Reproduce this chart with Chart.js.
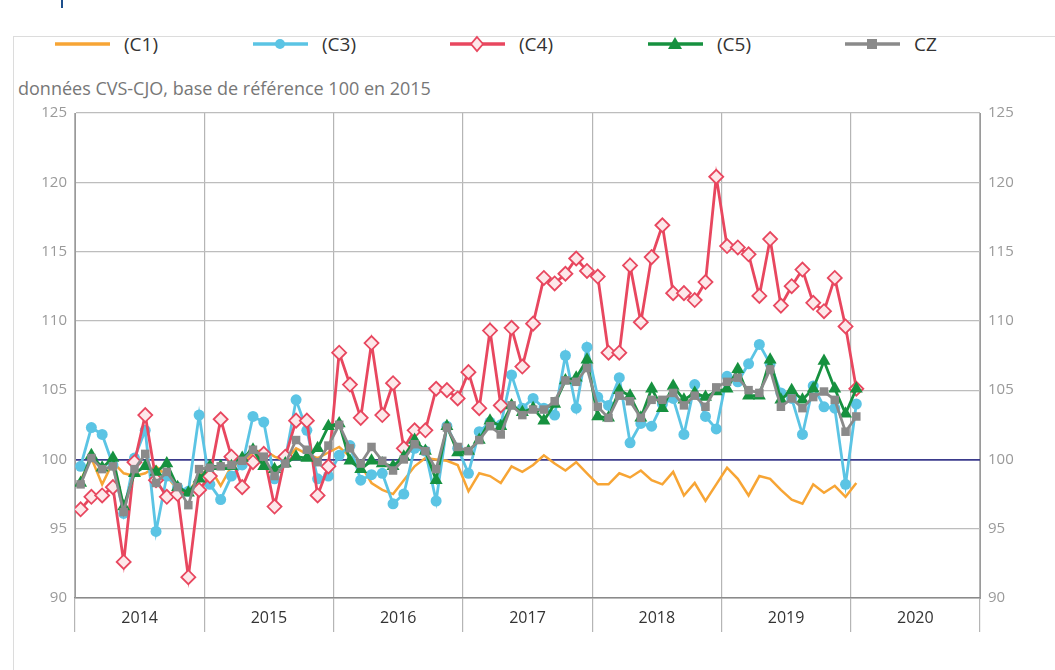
<!DOCTYPE html>
<html>
<head>
<meta charset="utf-8">
<script src="https://cdn.jsdelivr.net/npm/chart.js@4"></script>
<style>
  body { margin: 0; background: #fff; font-family: "Open Sans", sans-serif; }
  #wrap { position: relative; width: 1055px; height: 670px; overflow: hidden; }
  #frame { position: absolute; left: 13px; top: 36px; width: 1100px; height: 700px; border: 1px solid #dcdcdc; }
  #mark { position: absolute; left: 61px; top: 0; width: 2px; height: 8px; background: #1d4f8c; }
  #legend { position: absolute; top: 31px; left: 0; height: 26px; }
  .item { position: absolute; top: 0; height: 26px; display: flex; align-items: center; }
  .item span { font-size: 19px; color: #333; margin-left: 14px; }
  #sub { position: absolute; left: 18px; top: 76px; font-size: 18px; color: #777; }
  canvas { position: absolute; left: 0; top: 0; }
</style>
</head>
<body>
<div id="wrap">
  <div id="frame"></div>
  <div id="mark"></div>
  <div id="legend"></div>
  <div id="sub">données CVS-CJO, base de référence 100 en 2015</div>
  <canvas id="chart" width="1055" height="670"></canvas>
</div>
<script>
// monthly indices, Jan 2014 .. Jan 2020
const years = ['2014', '2015', '2016', '2017', '2018', '2019', '2020'];
const yTicks = [90, 95, 100, 105, 110, 115, 120, 125];

const c1 = [98.5, 100.1, 98.2, 99.8, 99.0, 98.8, 99.0, 99.5, 98.8, 97.8, 97.6, 98.8,
  99.4, 98.1, 99.5, 99.8, 100.5, 100.7, 100.2, 99.9, 100.8, 100.4, 100.1, 100.5,
  100.9, 100.2, 99.6, 98.3, 97.8, 97.5, 98.5, 99.5, 100.1, 100.0, 99.9, 99.6,
  97.7, 99.0, 98.8, 98.3, 99.5, 99.1, 99.6, 100.3, 99.7, 99.2, 99.8, 99.0,
  98.2, 98.2, 99.0, 98.7, 99.2, 98.5, 98.2, 99.1, 97.4, 98.3, 97.0, 98.2,
  99.4, 98.6, 97.4, 98.8, 98.6, 97.8, 97.1, 96.8, 98.2, 97.6, 98.1, 97.3,
  98.3];
const c3 = [99.5, 102.3, 101.8, 99.6, 96.1, 100.1, 102.1, 94.8, 98.8, 98.0, 97.7, 103.2,
  98.2, 97.1, 98.8, 99.6, 103.1, 102.7, 98.6, 100.0, 104.3, 102.1, 98.6, 98.8,
  100.3, 101.0, 98.5, 98.9, 99.0, 96.8, 97.5, 100.8, 100.6, 97.0, 102.4, 100.8,
  99.0, 102.0, 102.7, 102.5, 106.1, 103.7, 104.4, 103.7, 103.2, 107.5, 103.7, 108.1,
  104.5, 103.9, 105.9, 101.2, 102.6, 102.4, 104.0, 104.4, 101.8, 105.4, 103.1, 102.2,
  106.0, 105.6, 106.9, 108.3, 106.9, 104.8, 104.4, 101.8, 105.3, 103.8, 103.7, 98.2,
  104.0];
const c4 = [96.4, 97.3, 97.4, 98.0, 92.6, 99.8, 103.2, 98.5, 97.3, 97.5, 91.5, 97.8,
  98.8, 102.9, 100.2, 98.0, 99.8, 100.4, 96.6, 100.2, 102.8, 102.8, 97.4, 99.5,
  107.7, 105.4, 103.0, 108.4, 103.2, 105.5, 100.8, 102.1, 102.1, 105.1, 105.0, 104.4,
  106.3, 103.7, 109.3, 103.9, 109.5, 106.7, 109.8, 113.1, 112.7, 113.4, 114.5, 113.6,
  113.2, 107.7, 107.7, 114.0, 109.9, 114.6, 116.9, 112.0, 112.0, 111.5, 112.8, 120.4,
  115.4, 115.3, 114.8, 111.8, 115.9, 111.1, 112.5, 113.7, 111.3, 110.7, 113.1, 109.6,
  105.1];
const c5 = [98.3, 100.3, 99.4, 100.1, 96.6, 99.0, 99.5, 99.1, 99.7, 98.0, 97.6, 98.6,
  99.5, 99.5, 99.5, 100.1, 100.7, 99.5, 99.3, 99.7, 100.2, 100.1, 100.8, 102.4,
  102.6, 99.9, 99.3, 99.9, 99.7, 99.5, 100.2, 101.4, 100.6, 98.5, 102.4, 100.5,
  100.6, 101.4, 102.8, 102.4, 103.9, 103.4, 103.7, 102.8, 104.0, 105.7, 105.9, 107.2,
  103.1, 103.0, 105.0, 104.6, 103.0, 105.1, 103.7, 105.3, 104.3, 104.8, 104.5, 104.9,
  105.1, 106.5, 104.6, 104.6, 107.2, 104.3, 105.0, 104.3, 105.1, 107.1, 105.1, 103.3,
  105.1];
const cz = [98.2, 100.1, 99.3, 99.5, 96.2, 99.3, 100.4, 98.3, 99.1, 98.0, 96.7, 99.3,
  99.4, 99.5, 99.6, 99.9, 100.7, 100.2, 98.8, 99.7, 101.4, 100.7, 99.8, 101.0,
  102.5, 100.8, 99.7, 100.9, 99.9, 99.2, 100.0, 101.1, 100.6, 99.3, 102.3, 100.9,
  100.6, 101.4, 102.4, 101.8, 103.9, 103.2, 103.6, 103.6, 104.2, 105.7, 105.6, 106.6,
  103.8, 103.0, 104.6, 104.2, 103.0, 104.3, 104.3, 104.8, 103.9, 104.6, 103.8, 105.2,
  105.6, 105.9, 105.0, 104.8, 106.5, 103.8, 104.4, 103.7, 104.5, 104.9, 104.3, 102.0,
  103.1];

const colors = { c1: '#f7a535', c3: '#5bc4e4', c4: '#e8475f', c5: '#16913f', cz: '#8a8a8a' };

function pts(arr) {
  return arr.map((v, i) => ({ x: i + 0.52, y: v }));
}

// html legend: line with marker in the middle
const legendItems = [
  { label: '(C1)', color: colors.c1, left: 55, marker: '' },
  { label: '(C3)', color: colors.c3, left: 253, marker: '<circle cx="27" cy="9" r="5" fill="' + colors.c3 + '"/>' },
  { label: '(C4)', color: colors.c4, left: 450, marker: '<polygon points="27,2 33,9 27,16 21,9" fill="#fde8ea" stroke="' + colors.c4 + '" stroke-width="1.8"/>' },
  { label: '(C5)', color: colors.c5, left: 648, marker: '<polygon points="27,2 34,14 20,14" fill="' + colors.c5 + '"/>' },
  { label: 'CZ', color: colors.cz, left: 845, marker: '<rect x="22" y="4" width="10" height="10" fill="' + colors.cz + '"/>' }
];
const legend = document.getElementById('legend');
legendItems.forEach(function (it) {
  const d = document.createElement('div');
  d.className = 'item';
  d.style.left = it.left + 'px';
  d.innerHTML = '<svg width="55" height="18"><line x1="0" y1="9" x2="55" y2="9" stroke="' + it.color +
    '" stroke-width="3.5"/>' + it.marker + '</svg><span>' + it.label + '</span>';
  legend.appendChild(d);
});

const yCommon = {
  min: 90,
  max: 125,
  afterBuildTicks: function (s) { s.ticks = yTicks.map(v => ({ value: v })); },
  afterFit: function (s) { s.width = 75; },
  border: { display: true, color: '#9a9a9a' },
  ticks: { color: '#9a9a9a', font: { family: 'Open Sans', size: 15 }, padding: 8 }
};

const chart = new Chart(document.getElementById('chart'), {
  type: 'line',
  data: {
    datasets: [
      { label: '(C1)', data: pts(c1), borderColor: colors.c1, borderWidth: 2.5, pointRadius: 0, order: 4 },
      { label: '(C3)', data: pts(c3), borderColor: colors.c3, backgroundColor: colors.c3, borderWidth: 2.8,
        pointStyle: 'circle', pointRadius: 5.5, pointBorderWidth: 0, order: 3 },
      { label: '(C4)', data: pts(c4), borderColor: colors.c4, backgroundColor: '#fde8ea', borderWidth: 2.8,
        pointStyle: 'rectRot', pointRadius: 7, pointBorderWidth: 1.8, order: 2 },
      { label: '(C5)', data: pts(c5), borderColor: colors.c5, backgroundColor: colors.c5, borderWidth: 2.8,
        pointStyle: 'triangle', pointRadius: 7.5, pointBorderWidth: 0, order: 1 },
      { label: 'CZ', data: pts(cz), borderColor: colors.cz, backgroundColor: colors.cz, borderWidth: 2.8,
        pointStyle: 'rect', pointRadius: 6, pointBorderWidth: 0, order: 0 }
    ]
  },
  options: {
    responsive: false,
    animation: false,
    layout: { padding: { top: 113, left: 0, right: 0, bottom: 0 } },
    plugins: { legend: { display: false }, tooltip: { enabled: false } },
    scales: {
      x: { type: 'linear', min: 0, max: 84, display: false },
      years: {
        type: 'category',
        labels: years,
        position: 'bottom',
        offset: true,
        afterFit: function (s) { s.height = 72; },
        border: { display: true, color: '#8a8a8a', width: 1.5 },
        grid: { offset: true, color: '#b5b5b5', lineWidth: 1.2, tickLength: 34 },
        ticks: { color: '#333', font: { family: 'Open Sans', size: 16 }, padding: -23, maxRotation: 0 }
      },
      y: Object.assign({}, yCommon, {
        position: 'left',
        grid: {
          color: ctx => ctx.tick && ctx.tick.value === 100 ? '#3b3b8c' : '#bdbdbd',
          lineWidth: ctx => ctx.tick && ctx.tick.value === 100 ? 1.8 : 1.2,
          drawTicks: false
        }
      }),
      y2: Object.assign({}, yCommon, {
        position: 'right',
        grid: { drawOnChartArea: false, drawTicks: false }
      })
    }
  }
});
</script>
</body>
</html>
